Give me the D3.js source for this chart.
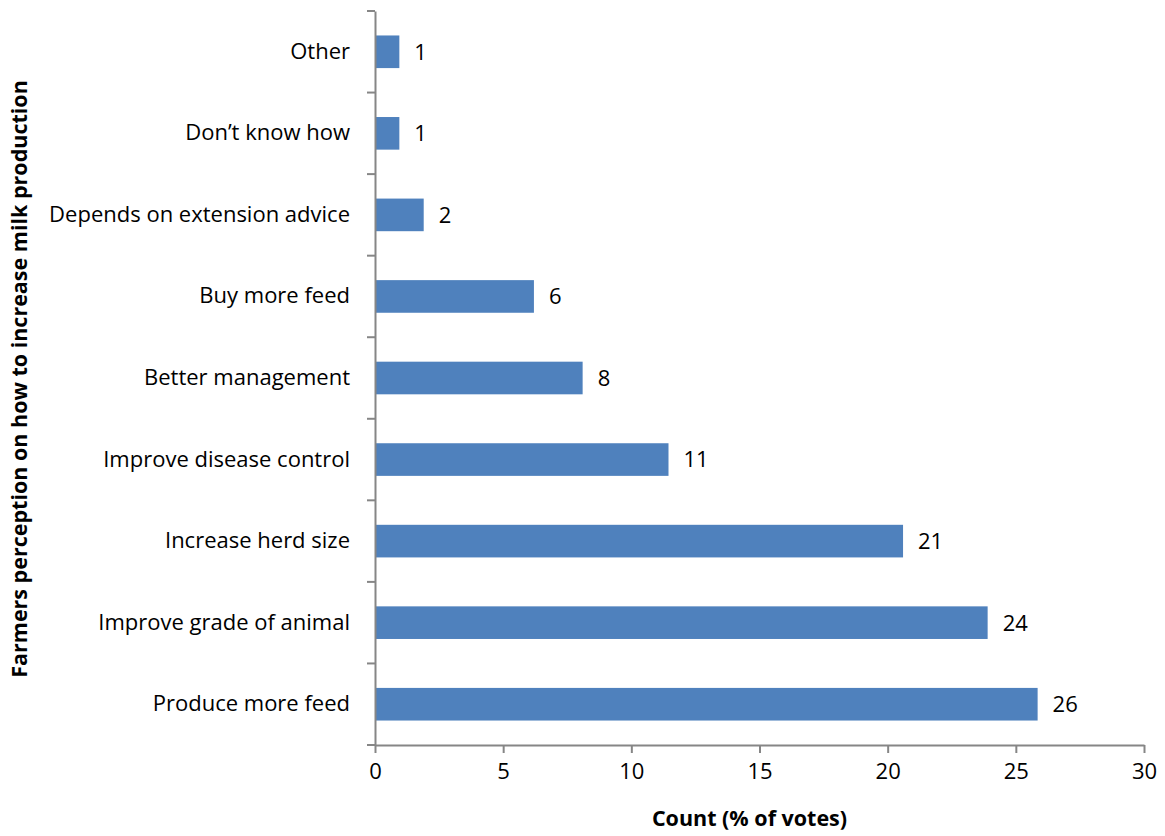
<!DOCTYPE html>
<html>
<head>
<meta charset="utf-8">
<script src="https://cdn.jsdelivr.net/npm/d3@7"></script>
<style>
  html, body { margin: 0; padding: 0; background: #fff; }
  svg { display: block; }
  text { font-family: "Open Sans", Lato, sans-serif; fill: #000; }
</style>
</head>
<body>
<svg id="chart" width="1165" height="836"></svg>
<script>
// Responses, listed top to bottom
const categories = [
  "Other",
  "Don\u2019t know how",
  "Depends on extension advice",
  "Buy more feed",
  "Better management",
  "Improve disease control",
  "Increase herd size",
  "Improve grade of animal",
  "Produce more feed"
];
// Share of votes (%) for each response
const votes = [0.95, 0.95, 1.9, 6.2, 8.1, 11.45, 20.6, 23.9, 25.85];
const xTicks = [0, 5, 10, 15, 20, 25, 30];
const xTitle = "Count (% of votes)";
const yTitle = "Farmers perception on how to increase milk production";

const data = categories.map((c, i) => ({ category: c, value: votes[i] }));

const svg = d3.select("#chart");
const margin = { top: 11, right: 21, bottom: 91, left: 375 };
const W = 1165, H = 836;
const innerW = W - margin.left - margin.right;
const innerH = H - margin.top - margin.bottom;

const g = svg.append("g").attr("transform", `translate(${margin.left},${margin.top})`);

const x = d3.scaleLinear().domain([0, 30]).range([0, innerW]);
const y = d3.scaleBand().domain(categories).range([0, innerH]).paddingInner(0.6).paddingOuter(0.3);

const axisColor = "#868686";
const fontFamily = "'Open Sans', Lato, sans-serif";
const fontSize = 22;

// Bars
g.selectAll("rect.bar")
  .data(data)
  .join("rect")
  .attr("class", "bar")
  .attr("x", x(0))
  .attr("y", d => y(d.category))
  .attr("width", d => x(d.value) - x(0))
  .attr("height", y.bandwidth())
  .attr("fill", "#4F81BD");

// Value labels
const fmt = d3.format(".0f");
g.selectAll("text.value")
  .data(data)
  .join("text")
  .attr("class", "value")
  .attr("x", d => x(d.value) + 15)
  .attr("y", d => y(d.category) + y.bandwidth() / 2)
  .attr("dy", "0.36em")
  .style("font-size", fontSize + "px")
  .text(d => fmt(d.value));

// X axis
const xAxis = g.append("g")
  .attr("transform", `translate(0,${innerH})`)
  .call(d3.axisBottom(x).tickValues(xTicks).tickSize(8).tickPadding(10).tickSizeOuter(0));
xAxis.select(".domain").attr("stroke", axisColor).attr("stroke-width", 2);
xAxis.selectAll(".tick line").attr("stroke", axisColor).attr("stroke-width", 2);
xAxis.selectAll(".tick text").style("font-size", fontSize + "px").attr("fill", "#000")
  .style("font-family", fontFamily);

// Y axis: category labels
const yAxis = g.append("g")
  .call(d3.axisLeft(y).tickSize(0).tickPadding(25));
yAxis.select(".domain").attr("stroke", axisColor).attr("stroke-width", 2);
yAxis.selectAll(".tick text").style("font-size", fontSize + "px").attr("fill", "#000")
  .style("font-family", fontFamily);

// Y axis tick marks between categories
const boundaries = d3.range(categories.length + 1).map(i => y.range()[0] + i * y.step());
g.append("g").selectAll("line")
  .data(boundaries)
  .join("line")
  .attr("x1", -8).attr("x2", 0)
  .attr("y1", d => d).attr("y2", d => d)
  .attr("stroke", axisColor).attr("stroke-width", 2);

// Axis titles
svg.append("text")
  .attr("x", margin.left + innerW / 2 - 10)
  .attr("y", 826)
  .attr("text-anchor", "middle")
  .style("font-size", "21.5px")
  .style("font-weight", "bold")
  .text(xTitle);

svg.append("text")
  .attr("transform", `translate(27,${margin.top + innerH / 2 + 1}) rotate(-90)`)
  .attr("text-anchor", "middle")
  .style("font-size", "21.5px")
  .style("font-weight", "bold")
  .text(yTitle);
</script>
</body>
</html>
